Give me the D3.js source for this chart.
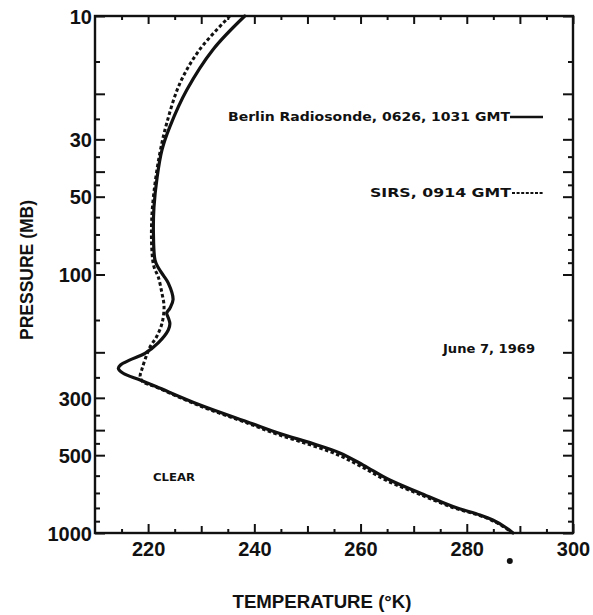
<!DOCTYPE html>
<html>
<head>
<meta charset="utf-8">
<script src="https://cdn.jsdelivr.net/npm/d3@7/dist/d3.min.js"></script>
<style>
  body { margin: 0; background: #fff; }
  text { fill: #111; font-family: "Liberation Sans", Arial, sans-serif; font-weight: bold; }
</style>
</head>
<body>
<svg id="chart" width="593" height="615"></svg>
<script>
// Tick sets for the pressure (log) axis, in mb
const pressureLabelTicks = [10, 30, 50, 100, 300, 500, 1000];
const pressureLongTicks = [20, 40, 200, 400];
const pressureShortTicks = [15, 25, 35, 45, 60, 70, 80, 90, 150, 250, 350, 450, 600, 700, 800, 900];

// Tick sets for the temperature axis, in K
const tempLabelTicks = [220, 240, 260, 280, 300];
const tempMidTicks = [230, 250, 270, 290];
const tempShortTicks = [215, 225, 235, 245, 255, 265, 275, 285, 295];

// Berlin radiosonde profile: [pressure mb, temperature K]
const radiosonde = [
  [10, 238.2], [13.5, 232.2], [19.3, 227.3], [26.8, 224.1], [33, 222.6],
  [42, 221.7], [55, 221.1], [69, 221.0], [88, 221.3], [94, 221.9],
  [101, 222.9], [108, 223.8], [125, 224.7], [135, 224.1], [141, 223.5],
  [147, 223.8], [155, 224.1], [164, 223.8], [184, 221.9], [202, 219.4],
  [214, 216.6], [224, 214.8], [231, 214.4], [241, 215.3], [256, 218.5],
  [272, 221.6], [320, 229.8], [375, 239.2], [412, 244.8], [451, 251.0],
  [490, 256.1], [546, 260.5], [624, 265.5], [700, 271.2], [790, 277.4],
  [852, 282.5], [891, 284.9], [948, 287.2], [1000, 288.7]
];

// SIRS retrieval profile: [pressure mb, temperature K]
const sirs = [
  [10, 235.4], [13.5, 229.7], [18.2, 226.0], [26, 223.5], [34, 222.2],
  [44.4, 221.3], [59.7, 220.7], [80, 220.7], [93.3, 221.1], [102, 221.9],
  [118, 222.6], [133, 223.0], [155, 222.6], [174, 221.6], [190, 220.4],
  [214, 219.4], [234, 218.8], [248, 218.5], [260, 219.0], [272, 221.4],
  [321, 229.5], [377, 238.9], [415, 244.3], [455, 250.4], [495, 255.4],
  [550, 259.9], [628, 265.0], [704, 270.8], [793, 277.1], [854, 282.3],
  [893, 284.7], [950, 287.1], [1000, 288.6]
];

// Observed surface temperature, K
const surfaceTemp = 288.1;

const seriesLabels = ["Berlin Radiosonde, 0626, 1031 GMT", "SIRS, 0914 GMT"];
const dateLabel = "June 7, 1969";
const skyLabel = "CLEAR";
const xTitle = "TEMPERATURE (\u00B0K)";
const yTitle = "PRESSURE (MB)";

const svg = d3.select("#chart");
const plotLeft = 95, plotRight = 573, plotTop = 16, plotBottom = 533;

const x = d3.scaleLinear().domain([210, 300]).range([plotLeft, plotRight]);
const y = d3.scaleLog().domain([10, 1000]).range([plotTop, plotBottom]);

const ink = "#111";

// Frame
svg.append("rect")
  .attr("x", plotLeft).attr("y", plotTop)
  .attr("width", plotRight - plotLeft).attr("height", plotBottom - plotTop)
  .attr("fill", "none").attr("stroke", ink).attr("stroke-width", 2.4);

// Draw an axis whose ticks point into the plot with a given length
function tickAxis(axisFn, scale, values, size, transform, labels) {
  const ax = axisFn(scale).tickValues(values).tickSizeInner(-size).tickSizeOuter(0);
  if (!labels) ax.tickFormat("");
  const g = svg.append("g").attr("transform", transform).call(ax);
  g.select(".domain").remove();
  g.selectAll(".tick line").attr("stroke", ink).attr("stroke-width", 2);
  return g;
}

// Pressure axes (left labelled, right plain)
const yLab = tickAxis(d3.axisLeft, y, pressureLabelTicks, 10, `translate(${plotLeft},0)`, true);
yLab.selectAll(".tick text")
  .attr("x", -3).attr("dy", "0.36em")
  .style("font-size", "20px")
  .text(d => d);
tickAxis(d3.axisLeft, y, pressureLongTicks, 10, `translate(${plotLeft},0)`, false);
tickAxis(d3.axisLeft, y, pressureShortTicks, 5, `translate(${plotLeft},0)`, false);
tickAxis(d3.axisRight, y, pressureLabelTicks.concat(pressureLongTicks), 10, `translate(${plotRight},0)`, false);
tickAxis(d3.axisRight, y, pressureShortTicks, 5, `translate(${plotRight},0)`, false);

// Temperature axes (bottom labelled, top plain)
const xLab = tickAxis(d3.axisBottom, x, tempLabelTicks, 9, `translate(0,${plotBottom})`, true);
xLab.selectAll(".tick text")
  .attr("y", 9).attr("dy", "0.71em")
  .style("font-size", "20px")
  .text(d => d);
tickAxis(d3.axisBottom, x, tempMidTicks, 7, `translate(0,${plotBottom})`, false);
tickAxis(d3.axisBottom, x, tempShortTicks, 4, `translate(0,${plotBottom})`, false);
tickAxis(d3.axisTop, x, tempLabelTicks.concat(tempMidTicks), 8, `translate(0,${plotTop})`, false);
tickAxis(d3.axisTop, x, tempShortTicks, 4, `translate(0,${plotTop})`, false);

svg.selectAll(".tick text").attr("fill", ink)
  .style("font-family", "'Liberation Sans', Arial, sans-serif").style("font-weight", "bold");

// Axis titles
svg.append("text")
  .attr("x", 322).attr("y", 608)
  .attr("text-anchor", "middle")
  .attr("textLength", 179).attr("lengthAdjust", "spacingAndGlyphs")
  .style("font-size", "19px")
  .text(xTitle);

svg.append("text")
  .attr("transform", "translate(33,270) rotate(-90)")
  .attr("text-anchor", "middle")
  .attr("textLength", 140).attr("lengthAdjust", "spacingAndGlyphs")
  .style("font-size", "19px")
  .text(yTitle);

// Profiles
const line = d3.line()
  .x(d => x(d[1]))
  .y(d => y(d[0]))
  .curve(d3.curveCatmullRom.alpha(0.5));

const plot = svg.append("g");
plot.append("path")
  .datum(sirs)
  .attr("d", line)
  .attr("fill", "none").attr("stroke", ink)
  .attr("stroke-width", 3).attr("stroke-dasharray", "3.5,2.5");

plot.append("path")
  .datum(radiosonde)
  .attr("d", line)
  .attr("fill", "none").attr("stroke", ink)
  .attr("stroke-width", 3.2).attr("stroke-linejoin", "round").attr("stroke-linecap", "round");

// Surface observation mark below the axis
svg.append("circle")
  .attr("cx", x(surfaceTemp)).attr("cy", 561).attr("r", 3).attr("fill", ink);

// Legend
svg.append("text")
  .attr("x", 228).attr("y", 121)
  .attr("textLength", 282).attr("lengthAdjust", "spacingAndGlyphs")
  .style("font-size", "12.5px").style("font-family", "'DejaVu Sans', sans-serif")
  .text(seriesLabels[0]);
svg.append("line")
  .attr("x1", 510).attr("x2", 543).attr("y1", 117).attr("y2", 117)
  .attr("stroke", ink).attr("stroke-width", 2.4);

svg.append("text")
  .attr("x", 370).attr("y", 197)
  .attr("textLength", 141).attr("lengthAdjust", "spacingAndGlyphs")
  .style("font-size", "12.5px").style("font-family", "'DejaVu Sans', sans-serif")
  .text(seriesLabels[1]);
svg.append("line")
  .attr("x1", 512).attr("x2", 543).attr("y1", 193).attr("y2", 193)
  .attr("stroke", ink).attr("stroke-width", 2.2).attr("stroke-dasharray", "3,1.6");

// Annotations
svg.append("text")
  .attr("x", 443).attr("y", 353)
  .attr("textLength", 92).attr("lengthAdjust", "spacingAndGlyphs")
  .style("font-size", "12.5px").style("font-family", "'DejaVu Sans', sans-serif")
  .text(dateLabel);

svg.append("text")
  .attr("x", 153).attr("y", 481)
  .attr("textLength", 42).attr("lengthAdjust", "spacingAndGlyphs")
  .style("font-size", "10px").style("font-family", "'DejaVu Sans', sans-serif")
  .text(skyLabel);
</script>
</body>
</html>
